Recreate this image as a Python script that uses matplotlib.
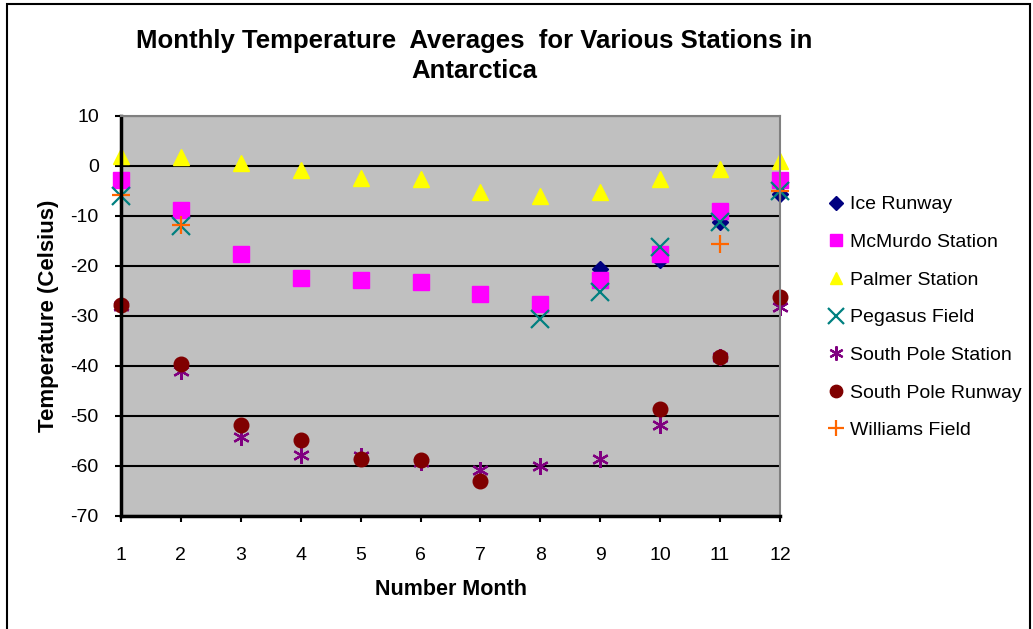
"""
Monthly temperature averages, Antarctic stations (Excel-style scatter)
"""
import numpy as np
import matplotlib
matplotlib.use('Agg')
import matplotlib.pyplot as plt
from matplotlib.patches import Rectangle

plt.rcParams['font.family'] = ['Liberation Sans', 'DejaVu Sans']
plt.rcParams['axes.unicode_minus'] = False

nan = np.nan
months = [1, 2, 3, 4, 5, 6, 7, 8, 9, 10, 11, 12]
ice_runway = [nan, nan, nan, nan, nan, nan, nan, nan, -20.5, -18.8, -11.1, -5.5]
mcmurdo = [-2.7, -8.7, -17.5, -22.3, -22.7, -23.1, -25.5, -27.6, -22.7, -17.5, -8.9, -2.7]
palmer = [2.1, 1.9, 0.7, -0.8, -2.4, -2.6, -5.1, -6.0, -5.1, -2.6, -0.6, 1.0]
pegasus = [-5.9, -11.9, nan, nan, nan, nan, nan, -30.6, -25.1, -16.1, -11.1, -4.9]
sp_station = [-28.0, -41.0, -54.1, -57.7, -58.0, -59.1, -60.7, -59.9, -58.5, -51.7, -38.1, -28.1]
sp_runway = [-27.8, -39.5, -51.7, -54.7, -58.5, -58.7, -62.9, nan, nan, -48.6, -38.1, -26.1]
williams = [-5.7, -11.7, nan, nan, nan, nan, nan, nan, nan, nan, -15.6, -4.9]

yticks = [10, 0, -10, -20, -30, -40, -50, -60, -70]

fig = plt.figure(figsize=(10.33, 6.29), dpi=100)
# outer chart border
fig.patches.append(Rectangle((7/1033, -0.05), 1023/1033, 1.05 - 4/629,
                             transform=fig.transFigure, fill=False,
                             edgecolor='black', linewidth=1.5))

ax = fig.add_axes([121/1033, 1 - 516/629, 659/1033, 400/629])
ax.set_facecolor('#C0C0C0')

kw = dict(linestyle='none', clip_on=False)
ax.plot(months, ice_runway, marker='D', color='#000080', markersize=8, label='Ice Runway', **kw)
ax.plot(months, mcmurdo, marker='s', color='#FF00FF', markersize=11, label='McMurdo Station', **kw)
ax.plot(months, palmer, marker='^', color='#FFFF00', markersize=11, label='Palmer Station', **kw)
ax.plot(months, pegasus, marker='x', color='#008080', markersize=13, markeredgewidth=1.6,
        label='Pegasus Field', **kw)
ax.plot(months, sp_station, marker=(6, 2, 0), color='#800080', markersize=12, markeredgewidth=1.6,
        label='South Pole Station', **kw)
ax.plot(months, sp_runway, marker='o', color='#800000', markersize=10.5, label='South Pole Runway', **kw)
ax.plot(months, williams, marker='+', color='#FF6600', markersize=13, markeredgewidth=1.6,
        label='Williams Field', **kw)

ax.set_xlim(1, 12)
ax.set_ylim(-70, 10)
ax.set_xticks(months)
ax.set_yticks(yticks)
ax.yaxis.grid(True, color='black', linewidth=1.5)
ax.set_axisbelow(True)

for s in ['top', 'right']:
    ax.spines[s].set_color('#808080')
    ax.spines[s].set_linewidth(1.5)
for s in ['left', 'bottom']:
    ax.spines[s].set_color('black')
    ax.spines[s].set_linewidth(2.5)

ax.tick_params(axis='y', direction='out', length=4, width=1.5, pad=12, labelsize=14)
ax.tick_params(axis='x', direction='out', length=4, width=1.5, pad=18, labelsize=14)

ax.set_xlabel('Number Month', fontsize=15.5, fontweight='bold', labelpad=11)
ax.set_ylabel('Temperature (Celsius)', fontsize=16, fontweight='bold', labelpad=8)

fig.text(474/1033, 1 - 56/629, 'Monthly Temperature  Averages  for Various Stations in\nAntarctica',
         ha='center', va='center', fontsize=18.5, fontweight='bold', linespacing=1.3)

fig.legend(loc='upper left', bbox_to_anchor=(820/1033, 1 - 188/629), frameon=False,
           fontsize=14, handlelength=0.8, handletextpad=0.35, labelspacing=1.03,
           borderaxespad=0, markerscale=0.85)

fig.savefig('out.png', dpi=100)
